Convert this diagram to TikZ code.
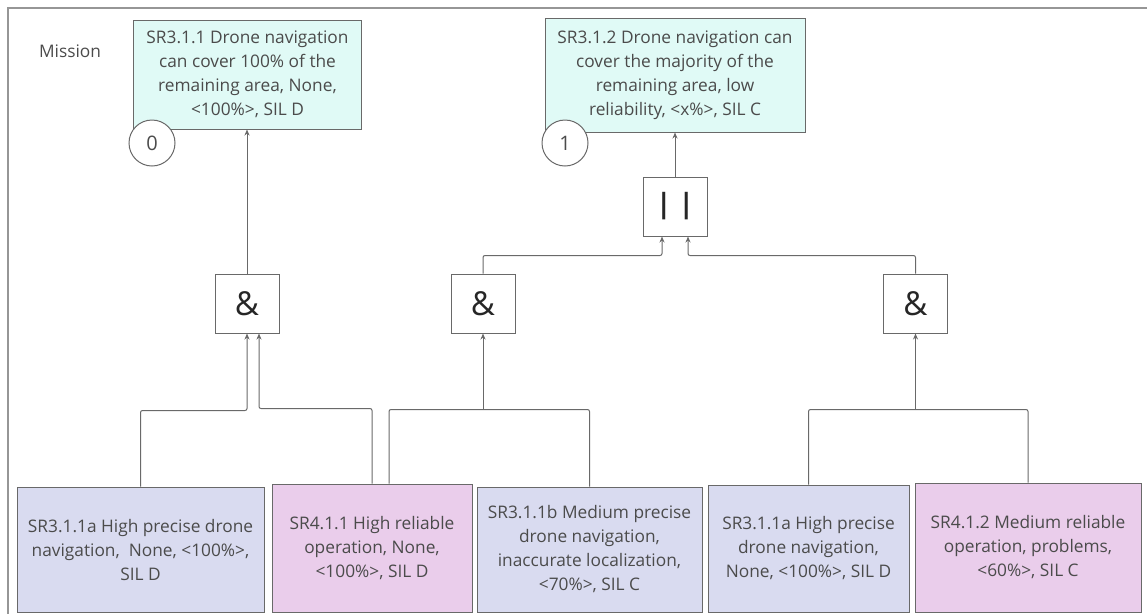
\documentclass[tikz,border=0pt]{standalone}
\usepackage{fontspec}
\setmainfont{Open Sans}
\usepackage{xcolor}
\usepackage{tikz}
\usetikzlibrary{calc,arrows.meta}
\definecolor{srcyan}{RGB}{224,250,246}
\definecolor{srblue}{RGB}{217,219,240}
\definecolor{srpink}{RGB}{234,205,235}
\definecolor{srline}{RGB}{105,105,105}
\definecolor{srtext}{RGB}{75,75,75}
\definecolor{srframe}{RGB}{150,150,150}

\tikzset{
  req/.style={draw=srline, line width=1pt, text=srtext, align=center, inner sep=0pt,
    font=\fontsize{17.3}{24}\selectfont},
  gate/.style={draw=srline, line width=1pt, fill=white, minimum width=64pt,
    minimum height=59pt, inner sep=0pt, text=black!85},
  num/.style={circle, draw=srline, line width=1pt, fill=white, minimum size=46pt,
    inner sep=0pt, font=\fontsize{20}{24}\selectfont, text=srtext},
  link/.style={draw=srline, line width=1pt, rounded corners=2pt},
  tip/.style={-{Stealth[length=6pt,width=5pt]}}
}

\begin{document}
\begin{tikzpicture}[x=1pt,y=-1pt]
\useasboundingbox (0,0) rectangle (1147,614);
\draw[srframe, line width=2pt] (1147,8) -- (8,8) -- (8,614);

\node[text=srtext, font=\fontsize{17.3}{24}\selectfont] (mission) at (70,51) {Mission};

% top requirements
\node[req, fill=srcyan, minimum width=228pt, minimum height=109pt] (top0) at (247.5,74.5)
  {SR3.1.1 Drone navigation\\can cover 100\% of the\\remaining area, None,\\<100\%>, SIL D};
\node[req, fill=srcyan, minimum width=260pt, minimum height=114pt] (top1) at (675,75)
  {SR3.1.2 Drone navigation can\\cover the majority of the\\remaining area, low\\reliability, <x\%>, SIL C};
\node[num] (c0) at (152,143) {0};
\node[num] (c1) at (565,143) {1};

% gates
\node[gate, font=\fontsize{28}{32}\selectfont\bfseries] (or) at (675,206.5) {\textbar\hspace{7pt}\textbar};
\node[gate, font=\fontsize{33}{36}\selectfont] (and1) at (247,303.5) {\&};
\node[gate, font=\fontsize{33}{36}\selectfont] (and2) at (483,303.5) {\&};
\node[gate, font=\fontsize{33}{36}\selectfont] (and3) at (915.5,303.5) {\&};

% bottom requirements
\node[req, fill=srblue, minimum width=247pt, minimum height=125pt] (b1) at (140.5,549.5)
  {SR3.1.1a High precise drone\\navigation,\ \ None, <100\%>,\\SIL D};
\node[req, fill=srpink, minimum width=200pt, minimum height=128pt] (b2) at (372,548)
  {SR4.1.1 High reliable\\operation, None,\\<100\%>, SIL D};
\node[req, fill=srblue, minimum width=225pt, minimum height=125pt] (b3) at (589.5,549.5)
  {SR3.1.1b Medium precise\\drone navigation,\\inaccurate localization,\\<70\%>, SIL C};
\node[req, fill=srblue, minimum width=201pt, minimum height=127pt] (b4) at (808.5,548.5)
  {SR3.1.1a High precise\\drone navigation,\\None, <100\%>, SIL D};
\node[req, fill=srpink, minimum width=226pt, minimum height=129pt] (b5) at (1028,547.5)
  {SR4.1.2 Medium reliable\\operation, problems,\\<60\%>, SIL C};

% input points on the gates
\coordinate (orL) at ($(or.south)+(-13,0)$);
\coordinate (orR) at ($(or.south)+(13,0)$);
\coordinate (a1L) at (and1.south);
\coordinate (a1R) at ($(and1.south)+(12,0)$);

% connectors
\draw[link,tip] (and1.north) -- (and1.north |- top0.south);
\draw[link,tip] (or.north) -- (or.north |- top1.south);
\draw[link,tip] (and2.north) |- ($(orL)+(0,19)$) -- (orL);
\draw[link,tip] (and3.north) |- ($(orR)+(0,19)$) -- (orR);

\draw[link,tip] (b1.north) |- ($(a1L)+(0,77)$) -- (a1L);
\draw[link,tip] (b2.north) |- ($(a1R)+(0,75)$) -- (a1R);

\draw[link] ($(b2.north)+(17,0)$) |- ($(and2.south)+(0,76)$) -| (b3.north);
\draw[link,tip] ($(and2.south)+(0,76)$) -- (and2.south);

\draw[link] (b4.north) |- ($(and3.south)+(0,76)$) -| (b5.north);
\draw[link,tip] ($(and3.south)+(0,76)$) -- (and3.south);
\end{tikzpicture}
\end{document}
